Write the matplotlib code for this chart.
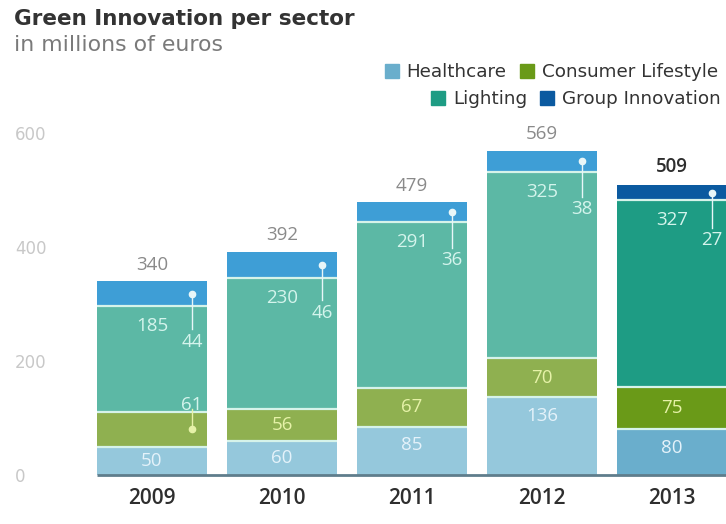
import matplotlib
matplotlib.use("Agg")
import matplotlib.pyplot as plt
from matplotlib.lines import Line2D
import numpy as np

plt.rcParams['font.family'] = ['Open Sans', 'DejaVu Sans']

years = ["2009", "2010", "2011", "2012", "2013"]
healthcare = [50, 60, 85, 136, 80]
consumer = [61, 56, 67, 70, 75]
lighting = [185, 230, 291, 325, 327]
group = [44, 46, 36, 38, 27]
totals = [340, 392, 479, 569, 509]
yticks = [0, 200, 400, 600]

# muted palette for earlier years, saturated for the latest year
muted = {"hc": "#95c8dc", "cl": "#8fb050", "li": "#5cb8a5", "gi": "#3e9ed6"}
vivid = {"hc": "#6aaecc", "cl": "#6a9a18", "li": "#1e9c84", "gi": "#0b5aa0"}
txt_hc, txt_cl, txt_li, txt_gi = "#e4f2fa", "#e6f2a8", "#d4f4ec", "#e8f6f8"

fig = plt.figure(figsize=(7.26, 5.24), dpi=100)
W, H = 726, 524
ax_left, ax_right, ax_top, ax_bottom = 60, 726, 110, 475
ax = fig.add_axes([ax_left / W, 1 - ax_bottom / H, (ax_right - ax_left) / W, (ax_bottom - ax_top) / H])

px_per_x = 130.0
x = np.arange(len(years))
xmin = -(152 - ax_left) / px_per_x
xmax = xmin + (ax_right - ax_left) / px_per_x
ax.set_xlim(xmin, xmax)
ppu = 0.57  # pixels per data unit
ax.set_ylim(0, (ax_bottom - ax_top) / ppu)

width = 110 / px_per_x
sep = "#d6f3ea"
for i in range(len(years)):
    pal = vivid if i == len(years) - 1 else muted
    b0 = 0
    for key, vals in (("hc", healthcare), ("cl", consumer), ("li", lighting), ("gi", group)):
        ax.bar(x[i], vals[i], bottom=b0, width=width, color=pal[key],
               linewidth=0, zorder=2)
        b0 += vals[i]
    # thin light separators between stacked segments
    bounds = np.cumsum([healthcare[i], consumer[i], lighting[i]])
    ax.hlines(bounds, x[i] - width / 2, x[i] + width / 2, color=sep, lw=1.6, zorder=3)

# baseline under bars
ax.plot([x[0] - width / 2, xmax], [0, 0], color="#5f7d8c", lw=2, zorder=3,
        solid_capstyle="butt", clip_on=False)

num_fs = 13.5
for i in range(len(years)):
    hc, cl, li, gi = healthcare[i], consumer[i], lighting[i], group[i]
    # healthcare label
    y_hc = max(hc / 2, hc - 33)
    ax.text(x[i], y_hc, str(hc), ha="center", va="center", color=txt_hc,
            fontsize=num_fs, zorder=5)
    # consumer label (pinned above the segment for the first year)
    pin_dx = 40 / px_per_x
    if i == 0:
        cy = hc + cl / 2
        ax.plot([x[i] + pin_dx, x[i] + pin_dx], [cy, hc + cl + 4], color=txt_cl, lw=1, zorder=5)
        ax.plot(x[i] + pin_dx, cy, "o", color=txt_cl, ms=4.5, zorder=6)
        ax.text(x[i] + pin_dx, hc + cl + 12, str(cl), ha="center", va="center",
                color=txt_li, fontsize=num_fs, zorder=5)
    else:
        ax.text(x[i], hc + cl / 2, str(cl), ha="center", va="center", color=txt_cl,
                fontsize=num_fs, zorder=5)
    # lighting label near the top of its segment
    li_top = hc + cl + li
    ax.text(x[i], li_top - 35, str(li), ha="center", va="center", color=txt_li,
            fontsize=num_fs, zorder=5)
    # group innovation pin
    dy = li_top + gi / 2
    ax.plot([x[i] + pin_dx, x[i] + pin_dx], [dy, dy - 62], color=txt_gi, lw=1, zorder=5)
    ax.plot(x[i] + pin_dx, dy, "o", color=txt_gi, ms=4.5, zorder=6)
    ax.text(x[i] + pin_dx, dy - 84, str(gi), ha="center", va="center", color=txt_li,
            fontsize=num_fs, zorder=5)
    # total
    last = i == len(years) - 1
    ax.text(x[i], totals[i] + 13, str(totals[i]), ha="center", va="bottom",
            color="#2e2e2e" if last else "#8a8a8a", fontsize=num_fs,
            fontweight="semibold" if last else "normal", zorder=5)

ax.set_xticks(x)
ax.set_xticklabels(years, fontsize=15, fontweight="semibold", color="#2e2e2e")
ax.set_yticks(yticks)
ax.set_yticklabels([str(v) for v in yticks], fontsize=12, color="#c8c8c8",
                   family="DejaVu Sans")
for lab in ax.get_yticklabels():
    lab.set_horizontalalignment("left")
ax.tick_params(axis="y", length=0, pad=45 * 0.72)
ax.tick_params(axis="x", length=0, pad=9)
for s in ax.spines.values():
    s.set_visible(False)

fig.text(14 / W, 1 - 19 / H, "Green Innovation per sector", fontsize=15.5,
         fontweight="bold", color="#333333", ha="left", va="center",
         family="DejaVu Sans")
fig.text(14 / W, 1 - 45 / H, "in millions of euros", fontsize=15.8,
         color="#7a7a7a", ha="left", va="center", family="DejaVu Sans")

def sq(c):
    return Line2D([], [], marker="s", ls="", color=c, ms=10)

leg_kw = dict(frameon=False, ncol=2, handlelength=0.7,
              handletextpad=0.45, columnspacing=0.75, borderaxespad=0,
              labelcolor="#333333",
              prop={"family": "DejaVu Sans", "size": 13.2})
l1 = fig.legend([sq(vivid["hc"]), sq(vivid["cl"])], ["Healthcare", "Consumer Lifestyle"],
                loc="center right", bbox_to_anchor=(725 / W, 1 - 72 / H), **leg_kw)
l2 = fig.legend([sq(vivid["li"]), sq(vivid["gi"])], ["Lighting", "Group Innovation"],
                loc="center right", bbox_to_anchor=(728 / W, 1 - 99 / H), **leg_kw)

fig.savefig("out.png", dpi=100)
